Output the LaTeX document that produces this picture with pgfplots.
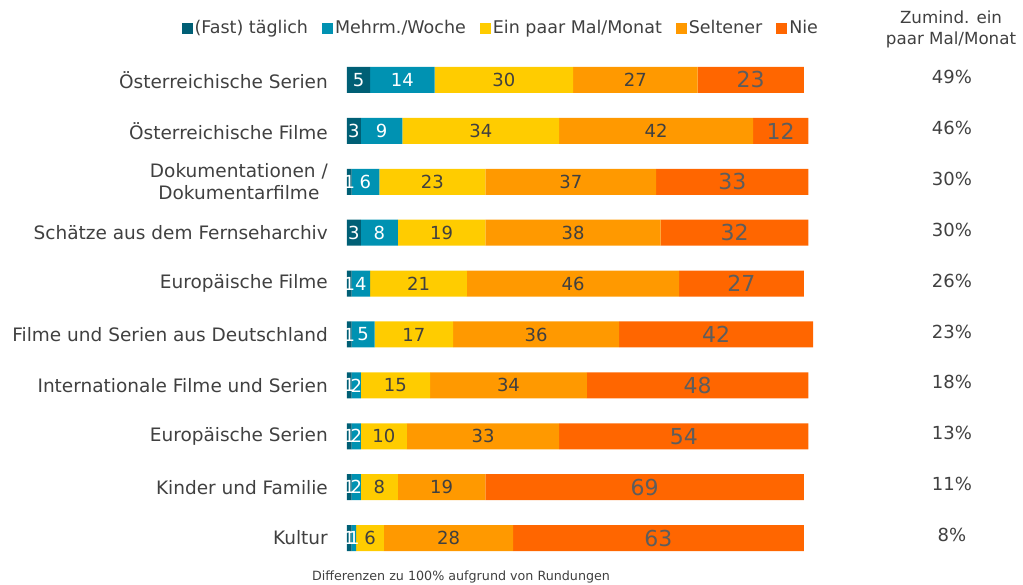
\documentclass[border=0pt]{standalone}
\usepackage{pgfplots}
\pgfplotsset{compat=1.18}
\usepackage{pgfplotstable}
\usepackage{fontspec}
\setmainfont{DejaVu Sans}
\definecolor{cA}{HTML}{005F75}
\definecolor{cB}{HTML}{0092B2}
\definecolor{cC}{HTML}{FFCC00}
\definecolor{cD}{HTML}{FF9900}
\definecolor{cE}{HTML}{FF6600}
\definecolor{txt}{HTML}{404040}
\pgfplotstableread{
y a b c d e
1 5 14 30 27 23
2 3 9 34 42 12
3 1 6 23 37 33
4 3 8 19 38 32
5 1 4 21 46 27
6 1 5 17 36 42
7 1 2 15 34 48
8 1 2 10 33 54
9 1 2 8 19 69
10 1 1 6 28 63
}\data
\begin{document}
\begin{tikzpicture}
\begin{axis}[
 at={(347pt,-563.5pt)}, anchor=south west,
 scale only axis, width=466pt, height=509pt,
 xbar stacked, bar width=26pt,
 xmin=0, xmax=101, ymin=0.5, ymax=10.5, y dir=reverse,
 axis line style={draw=none}, xtick=\empty, ytick={1,...,10},
 yticklabels={\"Osterreichische Serien,\"Osterreichische Filme,{Dokumentationen /\\Dokumentarfilme},Sch\"atze aus dem Fernseharchiv,Europ\"aische Filme,Filme und Serien aus Deutschland,Internationale Filme und Serien,Europ\"aische Serien,Kinder und Familie,Kultur},
 major tick length=0pt,
 yticklabel style={font=\fontsize{18.5}{22}\selectfont, text=txt, align=center, inner sep=0pt, xshift=-19pt},
 clip=false,
 /pgf/number format/assume math mode=true,
 legend columns=5,
 legend style={draw=none, fill=none, at={(0.330,1.052)}, anchor=center, font=\fontsize{17.5}{20}\selectfont, text=txt, nodes={inner xsep=2pt}, /tikz/every even column/.append style={column sep=12pt}},
 legend image code/.code={\fill[#1] (0pt,-5.5pt) rectangle (11pt,5.5pt);},
 point meta=explicit,
 nodes near coords={\pgfmathprintnumber[fixed,precision=0]{\pgfplotspointmeta}},
]
\addplot[fill=cA, draw=none,
  every node near coord/.append style={anchor=center, text=white, font=\fontsize{18}{20}\selectfont}]
  table[x=a, y=y, meta=a] {\data};
\addplot[fill=cB, draw=none,
  every node near coord/.append style={anchor=center, text=white, font=\fontsize{18}{20}\selectfont}]
  table[x=b, y=y, meta=b] {\data};
\addplot[fill=cC, draw=none,
  every node near coord/.append style={anchor=center, text=txt, font=\fontsize{18}{20}\selectfont}]
  table[x=c, y=y, meta=c] {\data};
\addplot[fill=cD, draw=none,
  every node near coord/.append style={anchor=center, text=txt, font=\fontsize{18}{20}\selectfont}]
  table[x=d, y=y, meta=d] {\data};
\addplot[fill=cE, draw=none,
  every node near coord/.append style={anchor=center, text=txt!85, font=\fontsize{22}{24}\selectfont}]
  table[x=e, y=y, meta=e] {\data};
\legend{(Fast) t\"aglich,Mehrm./Woche,Ein paar Mal/Monat,Seltener,Nie}
\foreach \v [count=\i] in {49,46,30,30,26,23,18,13,11,8} {
  \edef\tmp{\noexpand\node[font=\noexpand\fontsize{18}{20}\noexpand\selectfont, text=txt, yshift=3pt] at (axis cs:131.1,\i) {\v\noexpand\%};}\tmp
}
\end{axis}
\node[font=\fontsize{16.7}{21}\selectfont, text=txt, align=center] at (951pt,-29pt) {Zumind. ein\\paar Mal/Monat};
\node[font=\fontsize{12.7}{14}\selectfont, text=txt] at (461pt,-577pt) {Differenzen zu 100\% aufgrund von Rundungen};
\pgfresetboundingbox
\useasboundingbox (0,0) rectangle (1023pt,-585pt);
\end{tikzpicture}
\end{document}
